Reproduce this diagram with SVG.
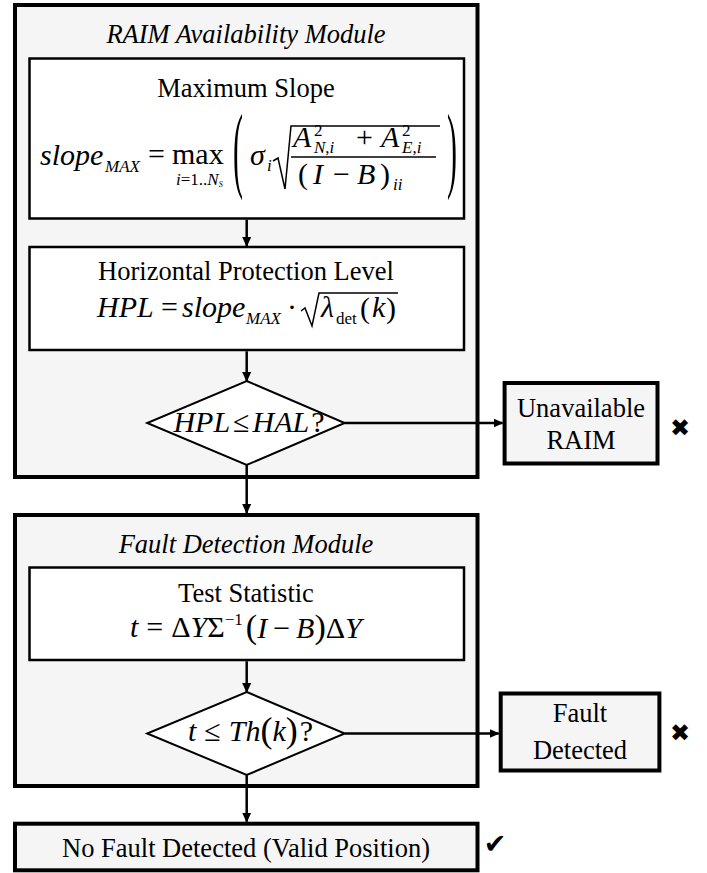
<svg xmlns="http://www.w3.org/2000/svg" width="707" height="873" viewBox="0 0 707 873">
<style>
.outer{fill:#f5f5f5;stroke:#000;stroke-width:4}
.inner{fill:#fff;stroke:#000;stroke-width:2.5}
.dia{fill:#fff;stroke:#000;stroke-width:2}
.side{fill:#f5f5f5;stroke:#000;stroke-width:4}
.t{font-family:"Liberation Serif","Times New Roman",serif;font-size:26.5px;fill:#000}
.ti{font-family:"Liberation Serif","Times New Roman",serif;font-size:26.5px;font-style:italic;fill:#000}
.m{font-family:"Liberation Serif","Times New Roman",serif;font-size:30px;font-style:italic;fill:#000}
.r{font-family:"Liberation Serif","Times New Roman",serif;font-size:30px;fill:#000}
.sub{font-family:"Liberation Serif","Times New Roman",serif;font-size:17px;font-style:italic;fill:#000}
.subr{font-family:"Liberation Serif","Times New Roman",serif;font-size:17px;fill:#000}
.sym{font-family:"DejaVu Sans",sans-serif;fill:#000}
.ln{fill:none;stroke:#000;stroke-width:2.5}
.rad{fill:none;stroke:#000;stroke-width:1.5}
</style>
<defs>
<marker id="ah" markerWidth="10" markerHeight="10" refX="9" refY="5" orient="auto" markerUnits="userSpaceOnUse">
<path d="M0,0.5 L10,5 L0,9.5 Z" fill="#000"/>
</marker>
</defs>

<g id="raim-module">
<rect class="outer" x="15" y="5" width="462.5" height="472"/>
<text class="ti" x="246" y="43" text-anchor="middle">RAIM Availability Module</text>
</g>

<g id="fd-module">
<rect class="outer" x="15" y="515" width="462.5" height="271"/>
<text class="ti" x="246" y="553" text-anchor="middle">Fault Detection Module</text>
</g>

<g id="max-slope">
<rect class="inner" x="29.5" y="58.5" width="434.5" height="160"/>
<text class="t" x="246" y="97" text-anchor="middle">Maximum Slope</text>
<text class="m" x="40" y="165" font-size="32">slope</text>
<text class="sub" x="105" y="172" font-size="15">MAX</text>
<text class="r" x="148" y="164" font-size="26">=</text>
<text class="r" x="172" y="164" font-size="21">max</text>
<text class="sub" x="176" y="185" font-size="12">i<tspan font-style="normal">=1..</tspan>N<tspan font-size="8" dy="2">S</tspan></text>
<text class="r" transform="translate(233,180) scale(1,3.2)">(</text>
<text class="m" x="250" y="165">σ</text>
<text class="sub" x="267" y="171" font-size="14">i</text>
<polyline class="rad" points="273,161 278,158 285,189 291,126 440,126"/>
<text class="m" x="293" y="147">A</text>
<text class="subr" x="314" y="136" font-size="16">2</text>
<text class="sub" x="314" y="153" font-size="16">N<tspan font-style="normal">,</tspan>i</text>
<text class="r" x="356" y="147" font-size="27">+</text>
<text class="m" x="381" y="147">A</text>
<text class="subr" x="402" y="136" font-size="16">2</text>
<text class="sub" x="402" y="153" font-size="16">E<tspan font-style="normal">,</tspan>i</text>
<line x1="291" y1="157" x2="436" y2="157" stroke="#000" stroke-width="1.3"/>
<text class="r" x="298" y="184">(</text>
<text class="m" x="313" y="184">I</text>
<text class="r" x="333" y="184" font-size="28">−</text>
<text class="m" x="357" y="184">B</text>
<text class="r" x="380" y="184">)</text>
<text class="sub" x="393" y="190" font-size="14">ii</text>
<text class="r" transform="translate(447,180) scale(1,3.2)">)</text>
</g>

<g id="hpl">
<rect class="inner" x="29.5" y="247" width="434.5" height="103"/>
<text class="t" x="246" y="280" text-anchor="middle">Horizontal Protection Level</text>
<text class="m" x="97" y="317" font-size="31">HPL</text>
<text class="r" x="161" y="317">=</text>
<text class="m" x="182" y="317">slope</text>
<text class="sub" x="246" y="324" font-size="16">MAX</text>
<text class="r" x="287" y="317">·</text>
<polyline class="rad" points="301,311 305,308 312,326 319,293 398,293"/>
<text class="m" x="321" y="317">λ</text>
<text class="subr" x="336" y="324" font-size="17">det</text>
<text class="r" x="360" y="318" font-size="34">(</text>
<text class="m" x="372" y="317">k</text>
<text class="r" x="386" y="318" font-size="34">)</text>
</g>

<g id="hpl-check">
<polygon class="dia" points="246.7,381 344.7,423 246.7,465 147.2,423"/>
<text class="m" x="249" y="432" text-anchor="middle">HPL<tspan font-style="normal" dx="3">≤</tspan><tspan dx="3">HAL</tspan><tspan font-style="normal" dx="2">?</tspan></text>
</g>

<g id="unavailable">
<rect class="side" x="504.6" y="383" width="152.9" height="80.5"/>
<text class="t" x="581" y="417" text-anchor="middle">Unavailable</text>
<text class="t" x="581" y="449" text-anchor="middle">RAIM</text>
<text class="sym" x="680" y="436" font-size="24" text-anchor="middle">✖</text>
</g>

<g id="test-stat">
<rect class="inner" x="29.5" y="567.5" width="434.5" height="92.5"/>
<text class="t" x="246" y="602" text-anchor="middle">Test Statistic</text>
<text class="m" x="130" y="637">t<tspan font-style="normal" dx="8">=</tspan><tspan font-style="normal" dx="8">Δ</tspan>Y<tspan font-style="normal">Σ</tspan><tspan font-style="normal" font-size="17" dy="-12">−1</tspan><tspan font-style="normal" font-size="34" dy="13" dx="3">(</tspan>I<tspan font-style="normal" dx="6">−</tspan><tspan dx="6">B</tspan><tspan font-style="normal" font-size="34">)</tspan><tspan font-style="normal">Δ</tspan>Y</text>
</g>

<g id="threshold-check">
<polygon class="dia" points="246.7,692 344.7,733.5 246.7,775 147.2,733.5"/>
<text class="m" x="188" y="741">t<tspan font-style="normal" dx="8">≤</tspan><tspan dx="8">Th</tspan><tspan font-style="normal" font-size="36" dy="1">(</tspan><tspan dy="-1">k</tspan><tspan font-style="normal" font-size="36" dy="1">)</tspan><tspan font-style="normal" dy="-1" dx="2">?</tspan></text>
</g>

<g id="fault-detected">
<rect class="side" x="500.7" y="693.5" width="158.7" height="77"/>
<text class="t" x="580" y="722" text-anchor="middle">Fault</text>
<text class="t" x="580" y="759" text-anchor="middle">Detected</text>
<text class="sym" x="680" y="741" font-size="24" text-anchor="middle">✖</text>
</g>

<g id="valid-position">
<rect class="side" x="15" y="823.7" width="462.5" height="46.6"/>
<text class="t" x="246" y="857" text-anchor="middle">No Fault Detected (Valid Position)</text>
<text class="sym" x="495" y="853" font-size="27" text-anchor="middle">✔</text>
</g>

<g id="connectors">
<line class="ln" x1="246.7" y1="219.75" x2="246.7" y2="246" marker-end="url(#ah)"/>
<line class="ln" x1="246.7" y1="351.25" x2="246.7" y2="381" marker-end="url(#ah)"/>
<line class="ln" x1="246.7" y1="465" x2="246.7" y2="513" marker-end="url(#ah)"/>
<line class="ln" x1="246.7" y1="661.25" x2="246.7" y2="692" marker-end="url(#ah)"/>
<line class="ln" x1="246.7" y1="775" x2="246.7" y2="821.7" marker-end="url(#ah)"/>
<line class="ln" x1="344.7" y1="423" x2="502.6" y2="423" marker-end="url(#ah)"/>
<line class="ln" x1="344.7" y1="733.5" x2="498.7" y2="733.5" marker-end="url(#ah)"/>
</g>
</svg>
